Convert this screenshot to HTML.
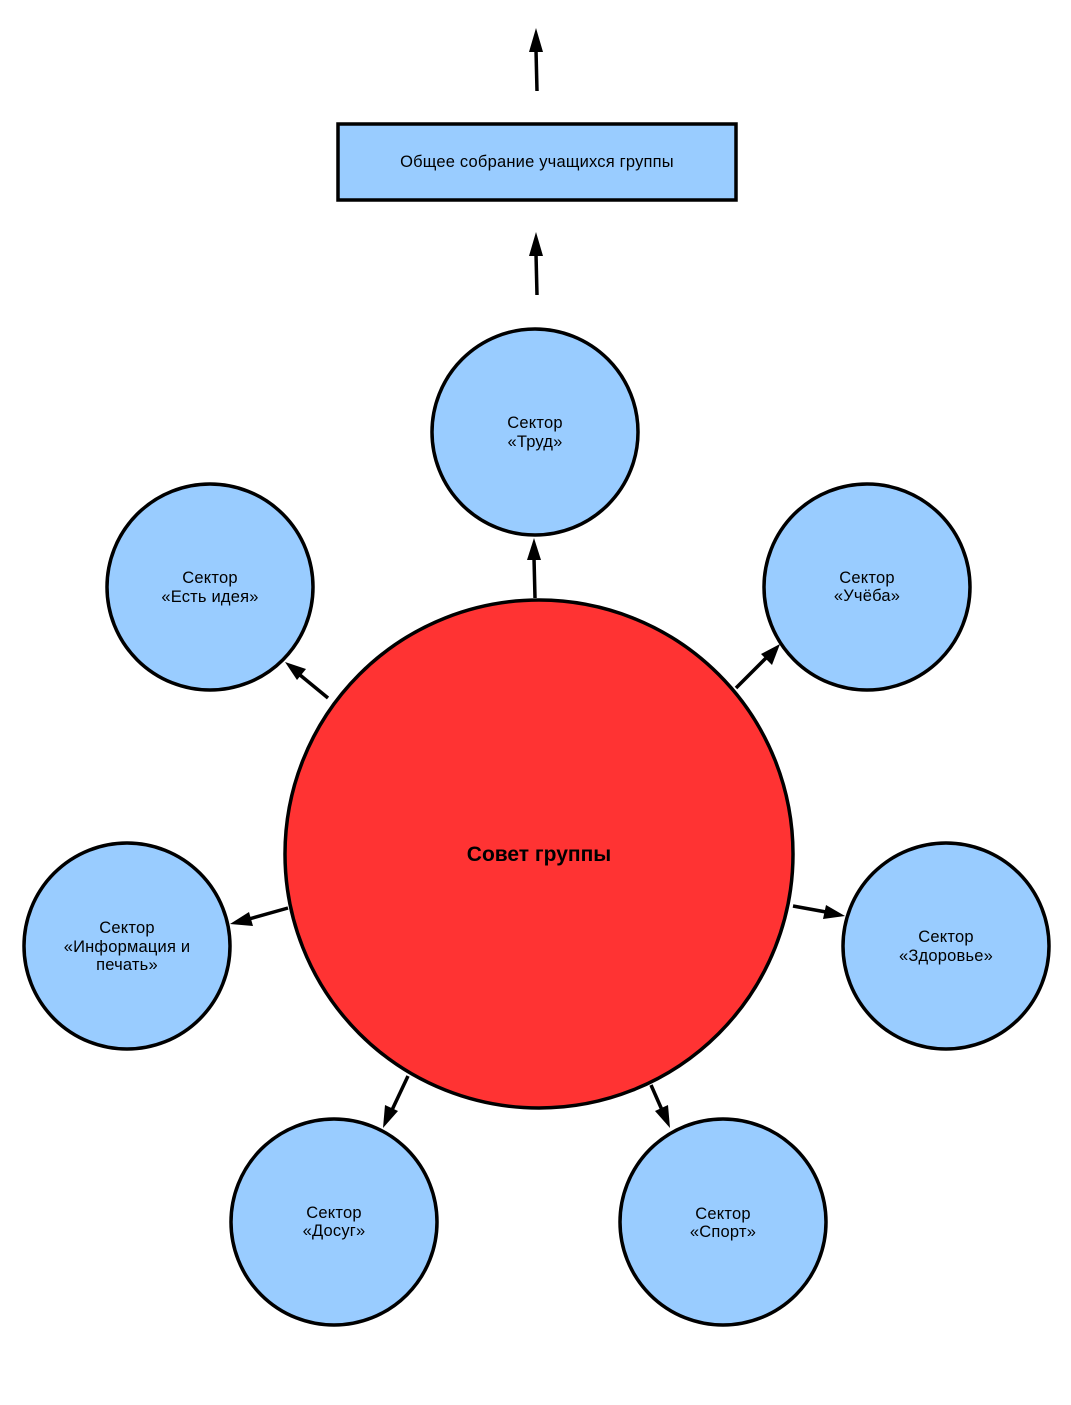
<!DOCTYPE html>
<html><head><meta charset="utf-8"><style>
html,body{margin:0;padding:0;background:#fff;}
svg{display:block}
text{font-family:"Liberation Sans",sans-serif;font-size:16.5px;fill:#000;text-anchor:middle;letter-spacing:0.2px}
</style></head><body>
<svg width="1071" height="1405" viewBox="0 0 1071 1405" xmlns="http://www.w3.org/2000/svg">
<g stroke="#000" stroke-width="3.5">
<path d="M537 91 L536 50" /><path d="M529 52 L536 28 L543 52 z" fill="#000" stroke="none"/>
<path d="M537 295 L536 254" /><path d="M529 256 L536 232 L543 256 z" fill="#000" stroke="none"/>
</g>
<rect x="338" y="124" width="398" height="76" fill="#99ccff" stroke="#000" stroke-width="3.5"/>
<text x="537" y="167">Общее собрание учащихся группы</text>

<g stroke="#000" stroke-width="3.5" fill="#99ccff">
<circle cx="535" cy="432" r="103"/>
<circle cx="210" cy="587" r="103"/>
<circle cx="867" cy="587" r="103"/>
<circle cx="127" cy="946" r="103"/>
<circle cx="946" cy="946" r="103"/>
<circle cx="334" cy="1222" r="103"/>
<circle cx="723" cy="1222" r="103"/>
<circle cx="539" cy="854" r="254" fill="#ff3333"/>
</g>

<g stroke="#000" stroke-width="3.5">
<line x1="535" y1="598" x2="534" y2="558"/>
<line x1="328" y1="698" x2="300" y2="675"/>
<line x1="736" y1="688" x2="766" y2="658"/>
<line x1="288" y1="908" x2="249" y2="919"/>
<line x1="793" y1="906" x2="826" y2="912"/>
<line x1="408" y1="1076" x2="392" y2="1110"/>
<line x1="651" y1="1085" x2="662" y2="1110"/>
</g>
<g fill="#000">
<polygon points="534,538 541,560 527,560"/>
<polygon points="285,662 306,669 297,680" />
<polygon points="780,644 772,665 761,654"/>
<polygon points="230,924 249,912 253,926"/>
<polygon points="845,916 823,919 826,905"/>
<polygon points="383,1128 385,1105 398,1111"/>
<polygon points="670,1128 655,1111 668,1105"/>
</g>

<text x="535" y="428">Сектор</text><text x="535" y="447">«Труд»</text>
<text x="210" y="583">Сектор</text><text x="210" y="602">«Есть идея»</text>
<text x="867" y="583">Сектор</text><text x="867" y="601">«Учёба»</text>
<text x="127" y="933">Сектор</text><text x="127" y="952">«Информация и</text><text x="127" y="970">печать»</text>
<text x="946" y="942">Сектор</text><text x="946" y="961">«Здоровье»</text>
<text x="334" y="1218">Сектор</text><text x="334" y="1236">«Досуг»</text>
<text x="723" y="1219">Сектор</text><text x="723" y="1237">«Спорт»</text>
<text x="539" y="861" style="font-size:21px;font-weight:bold;letter-spacing:0">Совет группы</text>
</svg>
</body></html>
